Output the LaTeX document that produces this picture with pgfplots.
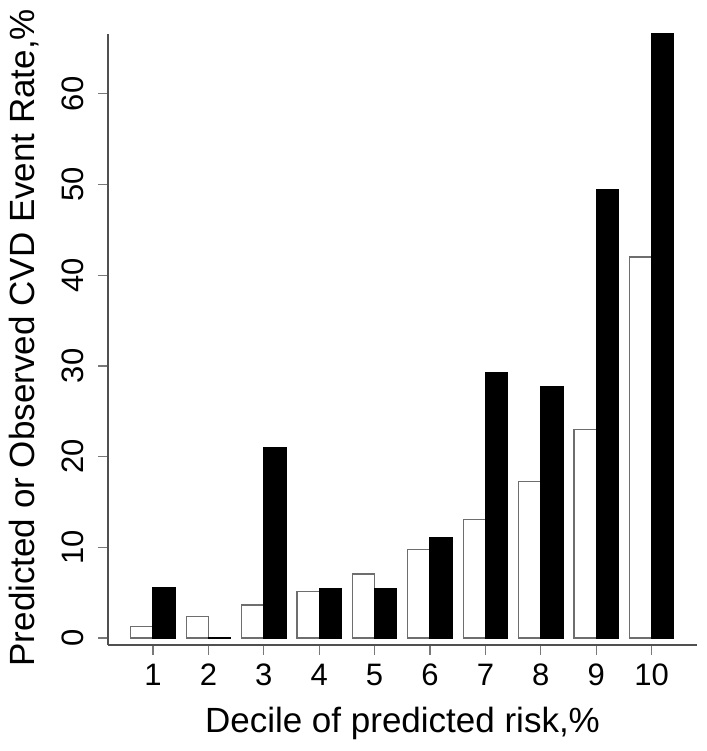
\documentclass[border=0pt]{standalone}
\usepackage{fontspec}
\setmainfont{Liberation Sans}
\usepackage{pgfplots}
\pgfplotsset{compat=1.18}
\definecolor{axgray}{RGB}{80,80,80}
\definecolor{tkgray}{RGB}{120,120,120}
\definecolor{bargray}{RGB}{110,110,110}
\begin{document}
\begin{tikzpicture}
\path[use as bounding box] (0,0) rectangle (706pt,751pt);
\begin{axis}[
  at={(108pt,106pt)}, anchor=south west,
  scale only axis, width=589pt, height=611pt,
  xmin=0.188, xmax=10.82, ymin=-0.77, ymax=66.6,
  axis x line=bottom, axis y line=left,
  axis line style={axgray, line width=1.6pt, -},
  ybar, bar width=0.4,
  xtick={1,2,3,4,5,6,7,8,9,10},
  ytick={0,10,20,30,40,50,60},
  tick align=outside, major tick length=10pt,
  tick style={tkgray, line width=1.2pt},
  /pgf/number format/assume math mode=true,
  ticklabel style={font=\fontsize{31}{31}\selectfont},
  xticklabel style={anchor=base, yshift=-31pt},
  yticklabel style={xshift=-14pt, anchor=base, rotate=90},
  xlabel={Decile of predicted risk,\%},
  ylabel={Predicted or Observed CVD Event Rate,\%},
  label style={font=\fontsize{35}{35}\selectfont},
  xlabel style={at={(axis description cs:0.5,-0.144)}, anchor=base},
  ylabel style={at={(axis description cs:-0.124,0.503)}, anchor=base, rotate=0},
]
\addplot[bar shift=-0.2, fill=white, draw=bargray, line width=1.2pt]
  coordinates {(1,1.25) (2,2.4) (3,3.65) (4,5.1) (5,7.05) (6,9.8) (7,13.1) (8,17.3) (9,23.0) (10,42.0)};
\addplot[bar shift=0.2, fill=black, draw=black, line width=1.2pt]
  coordinates {(1,5.55) (2,0.05) (3,21.05) (4,5.5) (5,5.5) (6,11.1) (7,29.3) (8,27.7) (9,49.4) (10,66.6)};
\end{axis}
\end{tikzpicture}
\end{document}
